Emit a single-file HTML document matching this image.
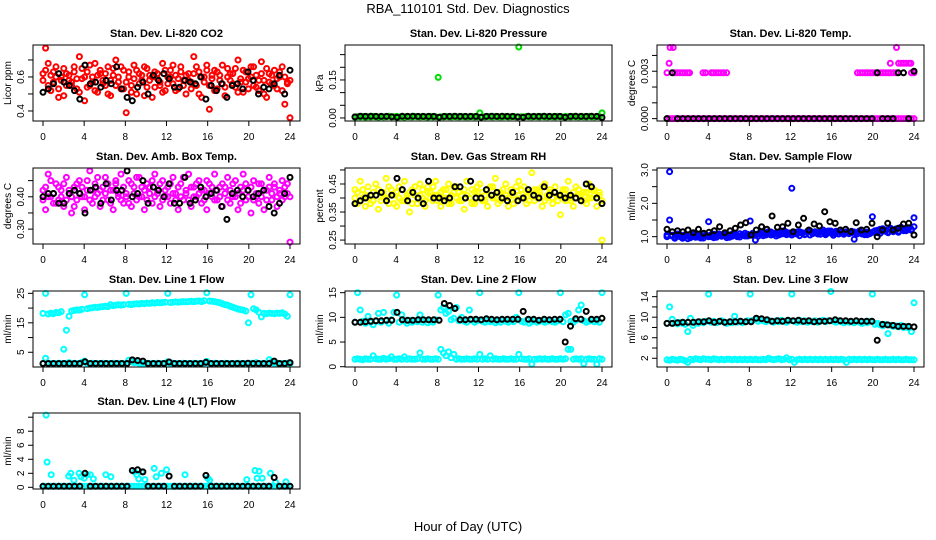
<!DOCTYPE html>
<html><head><meta charset="utf-8"><style>
html,body{margin:0;padding:0;background:#fff;}
svg{display:block;font-family:"Liberation Sans",Arial,sans-serif;}
</style></head><body>
<svg id="chart" width="936" height="540" viewBox="0 0 936 540">
<text x="468" y="13" font-size="13" text-anchor="middle">RBA_110101  Std. Dev. Diagnostics</text>
<text x="468" y="531" font-size="13" text-anchor="middle">Hour of Day (UTC)</text>
</svg>
<script>
// ---- data ----
const xTicks = [0,4,8,12,16,20,24];
const panelTitles = ["Stan. Dev. Li-820 CO2","Stan. Dev. Li-820 Pressure","Stan. Dev. Li-820 Temp.","Stan. Dev. Amb. Box Temp.","Stan. Dev. Gas Stream RH","Stan. Dev. Sample Flow","Stan. Dev. Line 1 Flow","Stan. Dev. Line 2 Flow","Stan. Dev. Line 3 Flow","Stan. Dev. Line 4 (LT) Flow"];
const yTitles = ["Licor ppm","kPa","degrees C","degrees C","percent","ml/min","ml/min","ml/min","ml/min","ml/min"];

const r1 = [0.62,0.77,0.68,0.52,0.63,0.60,0.48,0.58,0.65,0.55,0.61,0.57,0.66,0.53,0.72,0.59,0.46,0.63,0.55,0.60,0.68,0.51,0.62,0.58,0.55,0.66,0.49,0.61,0.70,0.57,0.53,0.64,0.39,0.60,0.55,0.67,0.50,0.62,0.58,0.66,0.54,0.61,0.48,0.63,0.59,0.55,0.68,0.52,0.60,0.64,0.56,0.61,0.53,0.66,0.58,0.50,0.62,0.57,0.72,0.55,0.63,0.48,0.60,0.67,0.41,0.59,0.64,0.53,0.61,0.56,0.49,0.65,0.58,0.62,0.54,0.70,0.57,0.51,0.63,0.59,0.66,0.55,0.61,0.52,0.69,0.58,0.48,0.62,0.56,0.64,0.53,0.60,0.66,0.44,0.57,0.36];
const r1b = [0.58,0.64,0.55,0.61,0.57,0.66,0.53,0.60,0.49,0.62,0.58,0.55,0.63,0.59,0.51,0.65,0.60,0.54,0.67,0.57,0.52,0.61,0.64,0.56,0.62,0.50,0.58,0.65,0.55,0.60,0.66,0.53,0.57,0.63,0.51,0.59,0.64,0.56,0.61,0.49,0.65,0.58,0.60,0.54,0.62,0.57,0.51,0.64,0.56,0.60,0.67,0.52,0.59,0.63,0.55,0.61,0.58,0.53,0.62,0.66,0.50,0.60,0.57,0.64,0.55,0.61,0.52,0.63,0.58,0.67,0.54,0.60,0.62,0.56,0.65,0.51,0.59,0.64,0.57,0.53,0.60,0.66,0.54,0.58,0.62,0.50,0.65,0.57,0.61,0.55,0.59,0.63,0.52,0.60,0.56,0.58];
const b1 = [0.51,0.53,0.56,0.62,0.57,0.55,0.52,0.47,0.67,0.56,0.57,0.54,0.58,0.56,0.66,0.53,0.48,0.46,0.54,0.57,0.50,0.61,0.58,0.62,0.59,0.54,0.54,0.58,0.57,0.56,0.60,0.47,0.55,0.52,0.56,0.48,0.55,0.56,0.53,0.63,0.58,0.50,0.54,0.53,0.56,0.61,0.50,0.64];

const g2 = [0.003,0.005,0.004,0.006,0.003,0.005,0.004,0.006,0.005,0.003,0.006,0.004,0.005,0.007,0.004,0.005,0.006,0.004,0.005,0.003,0.006,0.005,0.004,0.006,0.005,0.004,0.006,0.005,0.003,0.006,0.004,0.005,0.160,0.005,0.004,0.006,0.005,0.004,0.006,0.005,0.004,0.006,0.005,0.004,0.005,0.006,0.004,0.005,0.020,0.005,0.004,0.006,0.005,0.004,0.006,0.005,0.004,0.005,0.006,0.004,0.005,0.006,0.004,0.280,0.005,0.004,0.006,0.005,0.004,0.006,0.005,0.004,0.006,0.005,0.004,0.006,0.005,0.004,0.006,0.005,0.004,0.006,0.005,0.004,0.006,0.005,0.004,0.006,0.005,0.004,0.006,0.005,0.004,0.006,0.005,0.020];
const b2 = [0.004,0.007,0.006,0.007,0.006,0.006,0.006,0.005,0.003,0.007,0.006,0.007,0.006,0.006,0.006,0.006,0.003,0.006,0.006,0.007,0.006,0.006,0.006,0.006,0.003,0.006,0.007,0.006,0.007,0.006,0.006,0.004,0.003,0.007,0.006,0.006,0.007,0.006,0.006,0.006,0.003,0.006,0.007,0.006,0.006,0.007,0.006,0.002];

const m3 = [0,0,0,0,0,0,0,0,0,0,0,0,0,0,0,0,0,0,0,0,0,0,0,0,0,0,0,0,0,0,0,0,0,0,0,0,0,0,0,0,0,0,0,0,0,0,0,0,0,0,0,0,0,0,0,0,0,0,0,0,0,0,0,0,0,0,0,0,0,0,0,0,0,0,0,0,0,0,0,0,0,0,0,0,0,0,0,0,0,0,0,0,0,0,0,0];
const m3hiHours = [0,0.2,0.3,0.6,0.75,1,1.25,1.5,1.75,2,2.2,3.5,3.75,4.3,4.5,4.75,5,5.25,5.5,5.8,18.5,18.75,19,19.25,19.5,19.75,20,20.25,20.5,20.75,21,21.25,21.5,21.7,21.75,22,22.3,22.25,22.5,22.75,23,23.25,23.5,23.7,23.75,24];
const m3hiVals  = [0.0029,0.0035,0.0045,0.0045,0.0029,0.0029,0.0029,0.0029,0.0029,0.0029,0.0029,0.0029,0.0029,0.0029,0.0029,0.0029,0.0029,0.0029,0.0029,0.0029,0.0029,0.0029,0.0029,0.0029,0.0029,0.0029,0.0029,0.0029,0.0029,0.0029,0.0029,0.0029,0.0029,0.0035,0.0029,0.0029,0.0045,0.0029,0.0035,0.0035,0.0035,0.0035,0.0035,0.0035,0.0029,0.0029];
const b3 = [0,0.0029,0,0,0,0,0,0,0,0,0,0,0,0,0,0,0,0,0,0,0,0,0,0,0,0,0,0,0,0,0,0,0,0,0,0,0,0,0,0,0.0029,0,0,0,0.0029,0.0029,0,0.003];

const m4 = [0.42,0.36,0.47,0.40,0.38,0.44,0.39,0.42,0.37,0.46,0.41,0.35,0.43,0.39,0.45,0.40,0.36,0.42,0.48,0.38,0.44,0.41,0.37,0.43,0.46,0.39,0.42,0.36,0.44,0.40,0.47,0.38,0.41,0.45,0.37,0.43,0.39,0.46,0.40,0.36,0.44,0.41,0.38,0.47,0.42,0.37,0.45,0.40,0.43,0.38,0.46,0.41,0.36,0.44,0.39,0.42,0.47,0.37,0.43,0.40,0.45,0.38,0.42,0.36,0.44,0.40,0.47,0.39,0.43,0.37,0.41,0.46,0.38,0.44,0.40,0.36,0.43,0.47,0.39,0.42,0.35,0.45,0.40,0.38,0.44,0.36,0.42,0.46,0.39,0.43,0.37,0.41,0.45,0.40,0.44,0.26];
const m4b = [0.39,0.43,0.40,0.45,0.41,0.38,0.43,0.40,0.44,0.39,0.42,0.40,0.37,0.44,0.41,0.43,0.40,0.45,0.39,0.42,0.40,0.46,0.42,0.39,0.41,0.44,0.38,0.42,0.45,0.41,0.39,0.43,0.40,0.38,0.44,0.41,0.46,0.40,0.43,0.42,0.39,0.43,0.45,0.40,0.41,0.44,0.39,0.42,0.40,0.44,0.41,0.39,0.43,0.40,0.46,0.41,0.39,0.43,0.40,0.44,0.41,0.42,0.39,0.45,0.41,0.43,0.39,0.42,0.40,0.44,0.43,0.39,0.42,0.40,0.45,0.41,0.38,0.42,0.44,0.40,0.43,0.39,0.41,0.44,0.40,0.42,0.39,0.43,0.41,0.44,0.40,0.42,0.39,0.43,0.41,0.40];
const b4 = [0.40,0.41,0.41,0.38,0.38,0.41,0.42,0.41,0.35,0.42,0.43,0.38,0.44,0.39,0.42,0.42,0.48,0.40,0.41,0.45,0.38,0.43,0.42,0.40,0.44,0.38,0.38,0.46,0.38,0.39,0.43,0.40,0.41,0.42,0.37,0.33,0.41,0.42,0.40,0.42,0.40,0.41,0.42,0.37,0.35,0.38,0.41,0.46];

const y5 = [0.43,0.38,0.46,0.40,0.37,0.44,0.41,0.39,0.45,0.36,0.42,0.40,0.47,0.38,0.43,0.41,0.37,0.44,0.39,0.46,0.40,0.35,0.43,0.41,0.38,0.45,0.40,0.37,0.44,0.42,0.39,0.46,0.41,0.37,0.43,0.40,0.45,0.38,0.42,0.44,0.39,0.41,0.36,0.46,0.40,0.43,0.38,0.42,0.45,0.39,0.41,0.37,0.44,0.40,0.47,0.38,0.42,0.40,0.45,0.37,0.43,0.41,0.39,0.46,0.40,0.44,0.38,0.42,0.49,0.39,0.43,0.41,0.37,0.45,0.40,0.42,0.38,0.44,0.41,0.34,0.43,0.39,0.46,0.40,0.37,0.44,0.41,0.39,0.42,0.38,0.45,0.40,0.43,0.37,0.41,0.25];
const y5b = [0.40,0.42,0.39,0.43,0.41,0.40,0.38,0.42,0.41,0.43,0.39,0.42,0.40,0.44,0.41,0.38,0.42,0.40,0.43,0.39,0.41,0.42,0.38,0.44,0.40,0.41,0.43,0.39,0.42,0.40,0.44,0.41,0.39,0.42,0.40,0.43,0.38,0.41,0.44,0.40,0.42,0.39,0.43,0.41,0.40,0.38,0.42,0.44,0.40,0.42,0.39,0.43,0.41,0.44,0.40,0.42,0.39,0.43,0.41,0.40,0.42,0.38,0.44,0.41,0.43,0.40,0.42,0.39,0.41,0.43,0.40,0.42,0.44,0.39,0.41,0.43,0.40,0.42,0.39,0.41,0.40,0.43,0.41,0.39,0.42,0.40,0.43,0.41,0.39,0.42,0.40,0.43,0.41,0.40,0.42,0.39];
const b5 = [0.38,0.39,0.40,0.41,0.41,0.42,0.39,0.41,0.47,0.43,0.39,0.42,0.40,0.38,0.46,0.40,0.40,0.39,0.40,0.44,0.44,0.40,0.46,0.40,0.40,0.43,0.41,0.42,0.40,0.39,0.42,0.39,0.40,0.43,0.41,0.40,0.44,0.41,0.42,0.41,0.40,0.41,0.40,0.39,0.45,0.44,0.40,0.38];

const bl6 = [1.05,2.95,1.02,0.98,1.08,1.00,0.95,1.06,1.01,0.97,1.04,1.10,0.99,1.03,0.96,1.05,1.45,1.00,1.07,0.98,1.04,1.02,1.09,0.97,1.05,1.01,1.08,1.03,0.99,1.06,1.10,1.02,1.47,1.04,0.90,1.08,1.12,1.03,1.07,1.15,1.05,1.10,1.02,1.13,1.08,1.18,1.06,1.11,2.45,1.09,1.14,1.03,1.12,1.07,1.16,1.05,1.10,1.13,1.08,1.15,1.20,1.06,1.11,1.17,1.04,1.12,1.09,1.14,1.07,1.13,1.10,1.16,0.92,1.11,1.15,1.08,1.13,1.06,1.12,1.60,1.14,1.19,1.10,1.24,1.16,1.12,1.21,1.15,1.20,1.13,1.25,1.18,1.22,1.27,1.19,1.57];
const bl6b = [1.00,1.50,1.04,0.95,1.02,1.06,0.99,1.03,0.94,1.07,1.01,0.98,1.05,0.96,1.08,1.02,1.00,1.06,0.97,1.04,1.08,1.01,1.05,1.03,0.98,1.07,1.04,1.00,1.09,1.05,1.02,1.07,1.04,1.10,1.06,1.01,1.08,1.12,1.05,1.09,1.14,1.07,1.11,1.05,1.16,1.09,1.13,1.08,1.05,1.12,1.08,1.15,1.10,1.06,1.13,1.18,1.09,1.15,1.11,1.07,1.14,1.10,1.17,1.12,1.10,1.16,1.08,1.13,1.11,1.15,1.09,1.12,1.14,1.08,1.17,1.11,1.06,1.14,1.09,1.13,1.18,1.12,1.22,1.17,1.20,1.14,1.25,1.19,1.23,1.16,1.28,1.21,1.18,1.26,1.22,1.30];
const b6 = [1.22,1.15,1.18,1.15,1.20,1.12,1.22,1.10,1.13,1.18,1.30,1.12,1.18,1.25,1.35,1.42,1.05,1.20,1.30,1.22,1.62,1.28,1.30,1.40,1.15,1.35,1.55,1.20,1.38,1.32,1.75,1.45,1.40,1.20,1.22,1.15,1.42,1.20,1.22,1.40,1.00,1.20,1.40,1.20,1.25,1.38,1.40,1.05];

const c7 = [18.2,25.0,18.0,18.3,18.1,18.5,18.4,18.8,6.0,12.5,17.2,19.0,19.2,19.4,19.3,19.6,24.5,19.8,20.0,20.1,20.3,20.2,20.4,20.5,20.6,20.5,21.2,20.8,21.0,21.1,21.0,21.2,25.0,21.3,21.2,21.4,21.5,21.4,21.6,21.5,21.7,21.6,21.8,21.7,21.9,21.8,21.9,22.0,25.0,21.9,22.0,22.1,22.0,22.1,22.2,22.1,22.2,22.3,22.2,22.3,22.4,22.2,22.5,25.2,22.4,22.3,22.2,22.0,21.8,21.5,21.2,21.0,20.6,20.3,20.0,19.7,19.5,19.3,19.0,15.0,24.5,19.8,19.4,18.6,17.0,18.2,18.1,18.3,18.2,18.1,18.3,18.2,18.4,18.0,17.2,24.5];
const c7b = [1.2,3.0,1.3,1.2,1.2,1.2,1.3,1.2,1.2,1.2,1.5,1.2,1.3,1.2,1.2,1.6,2.0,1.2,1.2,1.3,1.2,1.2,1.2,1.3,1.2,1.2,1.2,1.3,1.2,1.2,1.2,1.2,1.2,2.3,1.8,1.5,1.6,1.3,1.2,1.2,1.3,1.2,1.2,1.2,1.3,1.2,1.2,1.2,1.8,1.2,1.3,1.2,1.2,1.2,1.3,1.2,1.2,1.2,1.3,1.2,1.2,1.2,1.3,1.9,1.2,1.2,1.3,1.2,1.2,1.2,1.3,1.2,1.2,1.2,1.2,1.3,1.2,1.2,1.2,1.2,1.3,1.2,1.5,1.2,1.2,1.2,1.2,2.5,1.8,1.2,1.3,1.2,1.2,1.2,1.3,1.2];
const b7 = [1.2,1.2,1.2,1.2,1.2,1.2,1.2,1.2,1.8,1.2,1.2,1.2,1.2,1.2,1.2,1.2,1.2,2.4,2.2,2.0,1.2,1.2,1.2,1.2,1.7,1.2,1.2,1.2,1.2,1.2,1.2,1.6,1.2,1.2,1.2,1.2,1.2,1.2,1.2,1.3,1.2,1.2,1.2,1.2,2.0,1.2,1.2,1.5];

const c8 = [9.0,15.0,11.5,9.2,8.8,10.2,9.0,8.5,9.2,10.8,9.0,11.0,9.3,8.8,9.5,11.0,14.5,9.0,10.5,9.2,8.8,9.4,9.0,9.3,9.1,10.5,9.0,9.4,8.9,9.3,9.0,9.5,14.5,11.5,12.0,10.8,11.2,9.5,9.8,12.0,9.3,10.0,9.2,9.0,11.5,9.4,9.0,9.3,15.0,9.2,9.0,9.4,9.1,9.3,8.9,9.2,9.0,9.4,9.2,9.0,9.3,9.1,10.0,15.0,9.2,9.0,9.4,8.8,9.1,9.3,9.0,9.2,9.3,9.0,9.2,9.4,9.1,9.0,9.3,15.0,9.1,10.5,10.8,9.2,9.0,9.4,11.5,12.5,9.3,9.0,9.2,9.4,9.1,9.3,9.0,15.0];
const c8b = [1.5,1.6,1.5,1.4,1.6,1.5,1.5,2.2,1.6,1.5,1.5,1.7,1.5,1.6,2.0,1.5,1.5,1.6,1.5,2.0,1.5,1.6,1.5,1.5,1.6,2.8,1.5,1.5,1.6,1.5,1.5,1.6,1.5,3.5,2.8,2.2,3.0,1.8,2.5,1.5,1.6,1.5,1.5,1.6,1.5,1.5,1.6,1.5,2.5,1.5,1.6,1.5,2.2,1.5,1.6,1.5,1.5,1.6,1.5,1.5,1.6,1.5,1.5,2.5,1.6,1.5,1.5,1.6,0.5,1.5,1.5,1.6,1.5,1.6,1.5,1.5,1.6,1.5,1.5,1.6,1.5,1.6,3.5,3.5,1.5,1.6,1.5,1.6,0.6,1.5,1.6,1.5,1.5,0.5,1.6,1.5];
const b8 = [9.0,9.0,9.1,9.2,9.3,9.3,9.4,9.4,11.0,9.5,9.4,9.4,9.5,9.5,9.5,9.5,9.4,12.8,12.4,11.8,9.5,9.5,9.6,9.6,9.5,9.7,9.6,9.5,9.6,9.6,9.6,9.6,11.2,9.6,9.6,9.4,9.6,9.5,9.6,9.6,5.0,8.2,9.7,9.6,11.2,9.6,9.6,9.8];

const c9 = [8.8,12.0,9.6,8.9,8.7,9.0,8.8,8.6,7.2,9.8,8.4,9.0,8.8,9.1,8.9,9.2,14.5,9.0,9.2,8.9,9.1,9.3,9.0,8.8,9.1,8.9,10.2,9.0,9.2,8.9,9.1,9.3,14.5,9.4,9.6,9.2,9.5,9.3,9.1,9.4,9.2,9.0,9.3,9.1,9.4,9.2,9.0,9.3,14.5,9.2,9.0,9.4,9.1,9.3,9.0,9.2,9.1,9.3,9.0,9.2,9.4,9.1,9.3,15.0,9.2,9.0,9.3,9.1,8.9,9.2,9.0,9.1,8.9,9.2,9.0,8.8,9.1,8.9,9.2,14.5,8.6,8.8,8.5,8.3,8.6,6.8,8.4,8.2,8.3,8.1,8.4,8.0,8.2,7.9,7.2,12.8];
const c9b = [1.7,1.6,1.8,1.7,1.6,1.8,1.7,1.5,1.2,1.8,1.7,1.9,1.8,1.7,1.9,1.8,1.8,1.7,1.9,1.8,1.7,1.8,1.7,1.8,1.8,1.7,1.8,1.7,1.8,1.7,1.8,1.7,1.8,1.7,1.8,1.7,1.7,1.8,1.7,2.0,1.8,1.7,1.8,1.9,1.7,1.8,2.1,1.7,1.8,1.2,1.7,1.8,1.7,1.8,1.7,1.8,1.7,1.8,1.7,1.8,1.7,1.8,1.7,1.8,1.7,1.8,1.7,1.8,1.7,1.2,1.8,1.7,1.8,1.7,1.8,1.7,1.8,1.7,1.8,1.7,1.7,1.8,1.7,1.7,1.8,1.7,1.7,1.8,1.7,1.8,1.7,1.7,1.8,1.7,1.7,1.7];
const b9 = [8.8,8.8,8.9,9.0,9.0,9.0,9.1,9.1,9.3,9.0,9.2,9.0,9.1,9.1,9.2,9.1,9.1,9.8,9.7,9.5,9.2,9.3,9.2,9.4,9.3,9.4,9.2,9.3,9.1,9.2,9.2,9.3,9.5,9.3,9.3,9.2,9.3,9.2,9.2,9.2,5.5,8.6,8.5,8.4,8.2,8.2,8.2,8.1];

const c10 = [0.15,0.15,0.15,0.15,0.15,0.15,0.15,0.15,0.15,0.15,0.15,0.15,0.15,0.15,0.15,0.15,0.15,0.15,0.15,0.15,0.15,0.15,0.15,0.15,0.15,0.15,0.15,0.15,0.15,0.15,0.15,0.15,0.15,0.15,0.15,0.15,0.15,0.15,0.15,0.15,0.15,0.15,0.15,0.15,0.15,0.15,0.15,0.15,0.15,0.15,0.15,0.15,0.15,0.15,0.15,0.15,0.15,0.15,0.15,0.15,0.15,0.15,0.15,0.15,0.15,0.15,0.15,0.15,0.15,0.15,0.15,0.15,0.15,0.15,0.15,0.15,0.15,0.15,0.15,0.15,0.15,0.15,0.15,0.15,0.15,0.15,0.15,0.15,0.15,0.15,0.15,0.15,0.15,0.15,0.15,0.15];
const c10sHours = [0.3,0.4,0.8,2.5,2.7,3.0,3.5,3.7,4.0,4.3,4.6,4.9,6.1,6.6,8.9,9.1,9.3,9.6,9.9,10.8,11.0,11.5,12.0,13.8,16.0,16.2,19.8,20.6,20.8,21.0,21.3,22.1,22.6,23.6];
const c10sVals  = [10.3,3.6,1.8,1.6,2.0,1.0,2.0,1.5,1.3,1.8,1.8,1.2,1.8,1.5,2.2,1.8,1.2,2.2,1.1,2.7,1.5,2.0,2.5,1.8,1.3,1.0,1.1,2.4,1.3,2.3,1.3,2.0,0.7,0.8];
const b10 = [0.15,0.15,0.15,0.15,0.15,0.15,0.15,0.15,2.0,0.15,0.15,0.15,0.15,0.15,0.15,0.15,0.15,2.4,2.5,2.2,0.15,0.15,0.15,0.15,1.6,0.15,0.15,0.15,0.15,0.15,0.15,1.7,0.15,0.15,0.15,0.15,0.15,0.15,0.15,0.15,0.15,0.15,0.15,0.15,1.4,0.15,0.15,0.15];

const yTickVals = [[0.4,0.5,0.6,0.7],[0,0.05,0.1,0.15,0.2,0.25],[0,0.001,0.002,0.003,0.004],[0.30,0.35,0.40,0.45],[0.25,0.30,0.35,0.40,0.45,0.50],[1.0,1.5,2.0,2.5,3.0],[5,10,15,20,25],[0,5,10,15],[2,4,6,8,10,12,14],[0,2,4,6,8,10]];
const yTickLabels = [["0.4","","0.6",""],["0.00","","","0.15","",""],["0.000","","","0.003",""],["0.30","","0.40",""],["0.25","","0.35","","0.45",""],["1.0","","2.0","","3.0"],["5","","15","","25"],["0","5","10","15"],["2","","6","","10","","14"],["0","2","4","6","8",""]];
const yDomains = [[0.341,0.788],[-0.012,0.288],[-0.00015,0.00466],[0.254,0.489],[0.236,0.507],[0.78,3.06],[0.0,25.8],[-0.06,15.34],[0.3,15.1],[-0.24,10.6]];

// ---- layout ----
const NS = "http://www.w3.org/2000/svg";
const svg = document.getElementById('chart');
const colL = [33,345,657], rowT = [45,168,291,413], BW = 267, BH = 76;
function mk(tag, attrs, parent){ const e=document.createElementNS(NS,tag); for(const k in attrs) e.setAttribute(k,attrs[k]); (parent||svg).appendChild(e); return e; }

const RED="#ff0000", GRN="#00dd00", MAG="#ff00ff", YEL="#ffff00", BLU="#0000ff", CYN="#00ffff", BLK="#000000";
function idxSeries(vals, color){ return {vals, color}; }
function hourSeries(hours, vals, color){ return {hours, vals, color}; }
const panelSeries = [
  [idxSeries(r1,RED), idxSeries(r1b,RED), idxSeries(b1,BLK)],
  [idxSeries(g2,GRN), idxSeries(b2,BLK)],
  [idxSeries(m3,MAG), hourSeries(m3hiHours,m3hiVals,MAG), idxSeries(b3,BLK)],
  [idxSeries(m4,MAG), idxSeries(m4b,MAG), idxSeries(b4,BLK)],
  [idxSeries(y5,YEL), idxSeries(y5b,YEL), idxSeries(b5,BLK)],
  [idxSeries(bl6,BLU), idxSeries(bl6b,BLU), idxSeries(b6,BLK)],
  [idxSeries(c7,CYN), idxSeries(c7b,CYN), idxSeries(b7,BLK)],
  [idxSeries(c8,CYN), idxSeries(c8b,CYN), idxSeries(b8,BLK)],
  [idxSeries(c9,CYN), idxSeries(c9b,CYN), idxSeries(b9,BLK)],
  [idxSeries(c10,CYN), hourSeries(c10sHours,c10sVals,CYN), idxSeries(b10,BLK)]
];

for(let p=0;p<10;p++){
  const L = colL[p%3], T = rowT[Math.floor(p/3)];
  const x0 = L+10, x1 = L+BW-10;
  const xs = h => x0 + (h/24)*(x1-x0);
  const [d0,d1] = yDomains[p];
  const ys = v => T+BH - (v-d0)/(d1-d0)*BH;
  const g = mk('g',{});
  
  
  const title = mk('text',{x:L+BW/2,y:T-8,'font-size':11,'font-weight':'bold','text-anchor':'middle'},g);
  title.textContent = panelTitles[p];
  
  
  const pts = mk('g',{fill:'none','stroke-width':2},g);
  
  
  panelSeries[p].forEach(s=>{
    const n = s.vals.length;
    for(let i=0;i<n;i++){
      const v = s.vals[i]; if(v===null) continue;
      const h = s.hours ? s.hours[i] : i*24/(n-1);
      const c = mk('circle',{cx:xs(h).toFixed(1),cy:ys(v).toFixed(1),r:2.5,stroke:s.color},pts);
      
      
    }
  });
  const box = mk('rect',{x:L,y:T,width:BW,height:BH,fill:'none',stroke:'#000','stroke-width':1},g);
  
  
  mk('line',{x1:xs(0),x2:xs(24),y1:T+BH,y2:T+BH,stroke:'#000'},g);
  xTicks.forEach(t=>{
    mk('line',{x1:xs(t),x2:xs(t),y1:T+BH,y2:T+BH+5,stroke:'#000'},g);
    const tx = mk('text',{x:xs(t),y:T+BH+19,'font-size':10,'text-anchor':'middle'},g);
    tx.textContent = t;
    
    
  });
  const yt = yTickVals[p];
  mk('line',{x1:L,x2:L,y1:ys(yt[0]),y2:ys(yt[yt.length-1]),stroke:'#000'},g);
  yt.forEach((t,i)=>{
    const y = ys(t);
    mk('line',{x1:L-5,x2:L,y1:y,y2:y,stroke:'#000'},g);
    const lab = yTickLabels[p][i];
    if(lab){
      const ty = mk('text',{x:0,y:0,'font-size':10,'text-anchor':'middle',transform:`translate(${L-9},${y}) rotate(-90)`},g);
      ty.textContent = lab;
      
      
    }
  });
  const yl = mk('text',{x:0,y:0,'font-size':10,'text-anchor':'middle',transform:`translate(${L-22},${T+BH/2}) rotate(-90)`},g);
  yl.textContent = yTitles[p];
  
  
}
</script>
</body></html>
